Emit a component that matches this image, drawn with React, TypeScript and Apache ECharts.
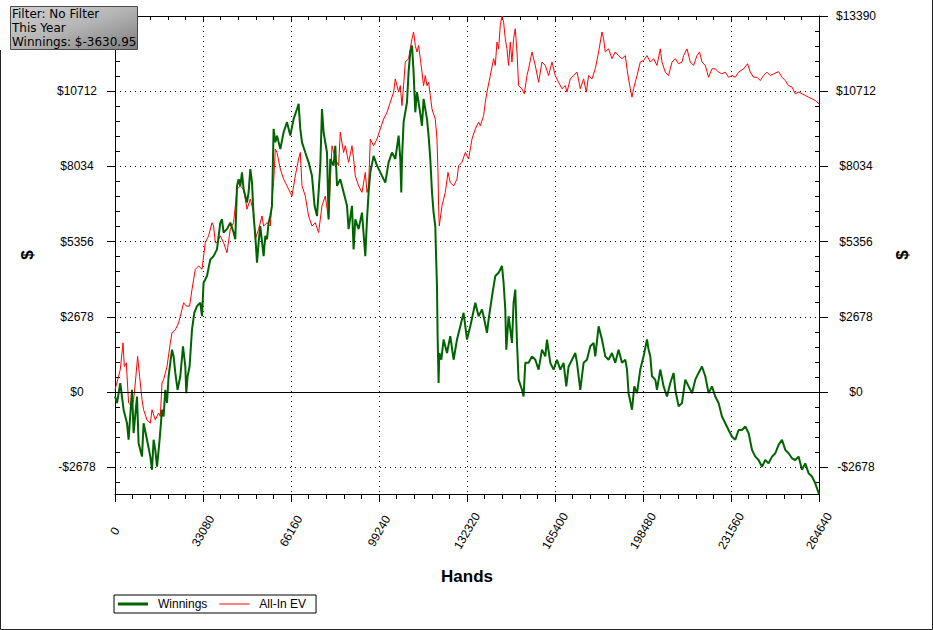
import React, { useEffect, useRef } from 'react';
import * as echarts from 'echarts';

// [hands, dollars]
const winnings: [number, number][] = [
  [0,-160],[750,-390],[1990,320],[3230,-630],[4510,-1110],[5110,-1700],[6390,80],[6990,-1460],[8270,-160],[8870,-1820],
  [10150,-2300],[10750,-1110],[12030,-1700],[13270,-2300],[13910,-2770],[14510,-1700],[15150,-2060],[15790,-2660],[16770,-1700],[17670,-630],
  [18270,-870],[18910,80],[19550,-390],[20150,560],[20790,1040],[21430,1510],[22030,1270],[22670,680],[23530,80],[24550,560],
  [25560,1630],[26430,910],[26800,-40],[27290,560],[28040,910],[28940,2220],[29810,2820],[30820,3060],[32060,3180],[32700,2700],
  [33300,3890],[34580,4130],[35820,4720],[37060,4840],[38340,5080],[39580,6030],[40220,6150],[40820,5680],[42100,5800],[43340,6030],
  [44580,5680],[45220,5440],[45860,7340],[46460,7580],[47100,7340],[47740,7820],[48340,7220],[49620,6750],[50220,7110],[50860,7940],
  [51500,7460],[52100,6270],[52740,5560],[53380,4610],[53980,5320],[54620,5910],[55860,4840],[56500,5560],[57140,5440],[57740,6030],
  [58380,6270],[59020,6630],[59620,9370],[60260,8890],[60900,9130],[62140,8650],[63380,9250],[64660,9610],[65900,9130],[67140,9720],
  [68410,10080],[69020,10260],[69650,9370],[70290,8890],[71530,8530],[72770,8180],[74050,7700],[75030,6630],[75930,6270],[76530,7110],
  [77170,8060],[77810,10080],[78410,9250],[79690,8530],[80290,6150],[80930,8300],[82170,8060],[82810,8770],[83450,7340],[84690,7580],
  [85930,7110],[87210,6630],[87810,5800],[89090,6630],[89690,5080],[90330,6150],[91570,5800],[92850,6390],[94090,4840],[94730,6150],
  [95330,7110],[95970,7820],[97210,8410],[98490,8060],[99730,7820],[100970,7580],[101610,7460],[102850,8180],[104120,8530],[105370,8300],
  [106610,9130],[107240,8300],[107620,7110],[107880,8300],[108490,9610],[109760,10320],[110360,11390],[111000,12110],[111640,12340],[112240,11390],
  [112880,9960],[113520,10680],[114120,10320],[115400,9480],[116000,10440],[117280,9720],[117880,9130],[118520,8300],[119160,7110],[119760,6390],
  [120400,5910],[120660,4960],[121040,3770],[121270,1990],[121640,320],[121900,1390],[122660,1150],[123520,1870],[124800,1390],[126040,1990],
  [127280,1150],[128560,1870],[129800,2340],[131040,2820],[132320,1870],[133560,2340],[135440,3180],[136680,2700],[137960,2940],[138560,2700],
  [139830,2110],[140440,2580],[141710,3410],[142950,4130],[144200,4250],[145470,4490],[146080,3890],[146710,2940],[147090,1510],[147950,2700],
  [149230,1750],[149830,3180],[150470,3650],[151110,1750],[151710,440],[152990,80],[153590,-160],[154230,1040],[155470,1040],[156750,1270],
  [157990,1150],[159230,800],[160510,1510],[161750,1270],[162390,1870],[163630,1040],[164870,800],[166150,1150],[167390,800],[168630,1040],
  [169640,200],[170510,910],[171790,1150],[173030,1390],[173670,1040],[174910,80],[176150,1040],[177420,1150],[178670,1630],[179910,1750],
  [180540,1270],[181790,2340],[183060,1870],[184300,1270],[185540,1150],[186820,1390],[188060,1040],[189300,1510],[190580,1040],[191820,1150],
  [192460,800],[193060,-40],[194340,-630],[195200,200],[196220,-40],[197460,800],[198700,1270],[199980,1870],[200580,1510],[201220,1270],
  [201860,560],[203100,440],[203740,80],[204980,800],[206220,200],[207500,-160],[208740,320],[209980,680],[210620,80],[211860,-510],
  [213140,-390],[214380,440],[215620,200],[216890,-40],[218140,440],[219380,680],[220650,910],[221890,560],[223130,-40],[224410,200],
  [225650,-160],[226890,-390],[228170,-870],[229410,-1110],[230650,-1350],[231930,-1590],[233170,-1700],[234410,-1350],[235690,-1350],[236930,-1230],
  [238170,-1460],[239450,-2060],[240690,-2300],[241930,-2420],[243210,-2660],[244450,-2420],[245690,-2540],[246970,-2300],[248210,-2180],[249450,-1880],
  [250730,-1700],[251970,-2060],[253210,-2180],[254480,-2360],[255720,-2420],[256970,-2300],[258240,-2770],[259480,-2540],[260720,-2890],[262000,-3010],
  [263240,-3250],[264640,-3630.95]
];

const allInEV: [number, number][] = [
  [0,80],[1350,560],[1990,800],[3010,1750],[3500,910],[4250,1040],[5110,-390],[6390,-510],[6990,-270],[7630,320],
  [8500,1270],[9250,560],[10150,-270],[10750,-630],[12030,-990],[13270,-1110],[13910,-630],[15150,-990],[16390,-750],[17030,-870],
  [17670,320],[18270,440],[19550,910],[20790,1750],[21430,2110],[22670,2220],[23910,2460],[25190,2940],[25790,3180],[26800,3060],
  [28040,3060],[28940,3650],[30190,4370],[31430,4490],[32700,4370],[33940,5320],[35180,5560],[36460,6030],[37060,5910],[37700,5320],
  [38340,5320],[39580,5560],[40820,5320],[42100,4960],[43340,5800],[44580,6030],[45860,7220],[47100,7340],[48340,7220],[49620,6510],
  [50860,6870],[51500,6630],[52100,6390],[52740,5440],[53980,5800],[55260,6270],[55860,5910],[57140,6030],[58380,5910],[59020,6870],
  [59620,7460],[60260,8650],[60900,8530],[62140,7940],[63380,7580],[64660,7340],[65260,7220],[66530,6980],[67770,7700],[69020,8300],
  [69650,8530],[70290,7340],[71530,6980],[72770,6270],[74050,5910],[75290,6030],[76530,5680],[77810,6630],[79050,6980],[80290,6150],
  [81570,8770],[82810,8300],[84050,8060],[84690,9250],[85930,8530],[86570,8770],[87810,8180],[89090,8770],[89690,8300],[90330,7700],
  [91570,7340],[92850,7110],[94090,7820],[94730,7110],[95330,7340],[95970,9010],[97210,8770],[98490,9010],[99730,9370],[100970,9720],
  [102250,9960],[103490,10320],[104730,10680],[105370,11150],[106610,10680],[107240,10910],[107880,10200],[108490,10910],[109120,11750],[110360,11870],
  [111640,12580],[112240,12820],[112880,12340],[113520,12110],[114120,12340],[114760,11870],[115400,11390],[116000,10910],[116640,11270],[117280,10910],
  [117880,11030],[118520,10560],[119160,10080],[120400,9720],[121040,9010],[121420,7820],[121640,6630],[121900,5910],[122920,6630],[124160,7110],
  [125180,7820],[126040,7460],[127280,7340],[128560,7580],[129160,8060],[130440,8180],[131680,8530],[132920,8300],[134200,9010],[135440,9370],
  [136680,9610],[137320,9480],[138560,9840],[139200,10320],[139830,10680],[141080,11270],[142320,11870],[142950,11630],[143590,12460],[144200,12220],
  [144830,13060],[145470,13390],[146080,13180],[146710,12580],[147350,12220],[147950,11630],[148590,12460],[149230,11750],[149830,12580],[150470,12940],
  [151110,12110],[151710,10910],[152990,10800],[153860,10620],[154870,11270],[155470,11510],[156750,12110],[157990,11630],[159230,11030],[160510,11750],
  [161750,11630],[162990,11270],[164270,11750],[165510,11270],[166750,11030],[168030,10800],[169270,10910],[169910,10680],[171150,11150],[172390,11270],
  [173670,11390],[174910,10800],[176150,11150],[177160,10680],[178030,11270],[179300,11150],[180540,11510],[181790,12110],[183060,12820],[183670,12580],
  [184300,12110],[185540,12220],[186820,11870],[188060,12110],[189300,11980],[190580,11870],[191820,11980],[192460,11510],[193060,11150],[193700,10800],
  [194340,10500],[194940,10800],[196220,11270],[197460,11750],[198700,11810],[199980,11980],[201220,11750],[202460,11870],[203740,11630],[204980,12220],
  [205620,11750],[206860,11390],[208100,11270],[209380,11750],[210620,11870],[211860,11690],[213140,11750],[213740,11980],[215020,12220],[216260,11750],
  [217500,11630],[218770,11980],[219750,12110],[220650,11750],[221890,11630],[223130,11210],[224410,11510],[225650,11510],[226890,11390],[228170,11330],
  [229410,11390],[230650,11210],[231930,11270],[233170,11210],[234410,11390],[236290,11510],[237790,11690],[238810,11390],[240050,11210],[241330,11210],
  [242570,11090],[243810,11270],[245090,11390],[246330,11270],[247570,11330],[249450,11410],[250730,11210],[251970,11090],[253210,10910],[254480,10860],
  [255720,10620],[256970,10680],[258240,10620],[259480,10560],[260720,10500],[262000,10440],[263240,10380],[264640,10260]
];

const yMajorTicks = [-2678, 0, 2678, 5356, 8034, 10712, 13390];
// the top-left label is hidden under the filter box in the reference
const yLeftLabels = [-2678, 0, 2678, 5356, 8034, 10712];
const yMin = -3630.95;
const yMax = 13390;
const xStep = 33080;
const xMax = 264640;
const seriesNames = ['Winnings', 'All-In EV'];
const filterLines = ['Filter: No Filter', 'This Year', 'Winnings: $-3630.95'];

const FONT = '"Liberation Sans", Arial, sans-serif';

function buildMinorTicks(): number[] {
  const step = (yMajorTicks[1] - yMajorTicks[0]) / 5;
  const out: number[] = [];
  for (let v = yMajorTicks[0] - step; v > yMin; v -= step) out.push(v);
  for (let i = 0; i < yMajorTicks.length - 1; i++) {
    for (let k = 1; k < 5; k++) out.push(yMajorTicks[i] + step * k);
  }
  return out;
}

const fmtDollar = (v: number) => (v < 0 ? '-$' + Math.abs(Math.round(v)) : '$' + Math.round(v));

export default function App() {
  const ref = useRef<HTMLDivElement>(null);
  useEffect(() => {
    if (!ref.current) return;
    const chart = echarts.init(ref.current, undefined, { renderer: 'svg' });
    const minor = buildMinorTicks();
    const black = { color: '#000', width: 1 };
    const dotted = { color: '#000', width: 1, type: [1, 4] as any };

    const yAxisBase = (position: 'left' | 'right') => ({
      type: 'value',
      position,
      min: yMin,
      max: yMax,
      scale: true,
      splitLine: { show: false },
    });

    const option: any = {
      animation: false,
      backgroundColor: '#fff',
      grid: { left: 115, top: 16, width: 704, height: 478, containLabel: false },
      legend: {
        left: 114,
        top: 595,
        orient: 'horizontal',
        symbolKeepAspect: true,
        data: [
          { name: seriesNames[0], icon: 'path://M0 0 H30 V3 H0 Z' },
          { name: seriesNames[1], icon: 'path://M0 0 H30 V1 H0 Z' },
        ],
        itemWidth: 30,
        itemHeight: 12,
        itemGap: 12,
        padding: [3, 10, 3, 4],
        borderColor: '#000',
        borderWidth: 1,
        borderRadius: 0,
        textStyle: { color: '#000', fontSize: 12, fontFamily: FONT, padding: [0, 0, 0, 5] },
      },
      xAxis: [
        {
          type: 'value',
          position: 'bottom',
          min: 0,
          max: xMax,
          interval: xStep,
          axisLine: { show: true, onZero: false, lineStyle: black },
          axisTick: { show: true, length: 8, lineStyle: black },
          minorTick: { show: true, splitNumber: 5, length: 5, lineStyle: black },
          axisLabel: {
            rotate: 60,
            align: 'center',
            verticalAlign: 'middle',
            margin: 37,
            color: '#000',
            fontSize: 12,
            fontFamily: FONT,
            formatter: (v: number) => String(v),
            showMinLabel: true,
            showMaxLabel: true,
          },
          splitLine: { show: true, lineStyle: dotted },
          name: 'Hands',
          nameLocation: 'middle',
          nameGap: 74,
          nameTextStyle: { color: '#000', fontSize: 17, fontWeight: 'bold', fontFamily: FONT, verticalAlign: 'top' },
        },
        {
          type: 'value',
          position: 'top',
          min: 0,
          max: xMax,
          interval: xStep,
          axisLine: { show: true, onZero: false, lineStyle: black },
          axisTick: { show: true, inside: true, length: 6, lineStyle: black },
          minorTick: { show: true, splitNumber: 5, length: 4, lineStyle: black },
          axisLabel: { show: false },
          splitLine: { show: false },
        },
      ],
      yAxis: [
        {
          ...yAxisBase('left'),
          axisLine: { show: true, onZero: false, lineStyle: black },
          axisTick: { show: true, length: 8, lineStyle: black, customValues: yMajorTicks },
          axisLabel: {
            customValues: yLeftLabels,
            formatter: fmtDollar,
            color: '#000',
            fontSize: 12,
            fontFamily: FONT,
            align: 'center',
            margin: 38,
          },
          name: '$',
          nameLocation: 'middle',
          nameGap: 79,
          nameRotate: 90,
          nameTextStyle: { color: '#000', fontSize: 17, fontWeight: 'bold', fontFamily: FONT },
        },
        {
          ...yAxisBase('left'),
          axisLine: { show: false, onZero: false },
          axisTick: { show: true, inside: true, length: 5, lineStyle: black, customValues: minor },
          axisLabel: { show: false },
        },
        {
          ...yAxisBase('right'),
          axisLine: { show: true, onZero: false, lineStyle: black },
          axisTick: { show: true, length: 9, lineStyle: black, customValues: yMajorTicks },
          axisLabel: {
            customValues: yMajorTicks,
            formatter: fmtDollar,
            color: '#000',
            fontSize: 12,
            fontFamily: FONT,
            align: 'center',
            margin: 37,
          },
          name: '$',
          nameLocation: 'middle',
          nameGap: 75,
          nameRotate: 90,
          nameTextStyle: { color: '#000', fontSize: 17, fontWeight: 'bold', fontFamily: FONT },
        },
        {
          ...yAxisBase('right'),
          axisLine: { show: false, onZero: false },
          axisTick: { show: true, inside: true, length: 4, lineStyle: black, customValues: minor },
          axisLabel: { show: false },
        },
      ],
      series: [
        {
          name: 'gridlines',
          type: 'line',
          data: [],
          xAxisIndex: 0,
          yAxisIndex: 0,
          z: 1,
          silent: true,
          markLine: {
            silent: true,
            symbol: ['none', 'none'],
            label: { show: false },
            animation: false,
            data: [
              ...yMajorTicks
                .filter((v) => v !== 0 && v !== yMax)
                .map((v) => ({ yAxis: v, lineStyle: dotted })),
              { yAxis: 0, lineStyle: { color: '#000', width: 1, type: 'solid' } },
            ],
          },
        },
        {
          name: seriesNames[1],
          type: 'line',
          data: allInEV,
          xAxisIndex: 0,
          yAxisIndex: 0,
          symbol: 'none',
          showSymbol: false,
          z: 3,
          silent: true,
          lineStyle: { color: '#ff0000', width: 1 },
          itemStyle: { color: '#ff0000' },
        },
        {
          name: seriesNames[0],
          type: 'line',
          data: winnings,
          xAxisIndex: 0,
          yAxisIndex: 0,
          symbol: 'none',
          showSymbol: false,
          z: 4,
          silent: true,
          lineStyle: { color: '#006400', width: 2 },
          itemStyle: { color: '#006400' },
        },
      ],
      graphic: [
        {
          type: 'polyline',
          silent: true,
          z: 50,
          shape: { points: [[0.5, 50], [0.5, 629.5], [932.5, 629.5], [932.5, 0]] },
          style: { stroke: '#222', fill: 'none', lineWidth: 1 },
        },
        {
          type: 'rect',
          silent: true,
          z: 100,
          shape: { x: 10.5, y: 6.5, width: 127, height: 43 },
          style: {
            fill: new echarts.graphic.LinearGradient(0, 0, 1, 1, [
              { offset: 0, color: '#d2d2d2' },
              { offset: 0.5, color: '#b4b4b4' },
              { offset: 1, color: '#7e7e7e' },
            ]),
            stroke: '#4a4a4a',
            lineWidth: 1,
          },
        },
        ...filterLines.map((t, i) => ({
          type: 'text',
          silent: true,
          z: 101,
          style: {
            x: 12,
            y: 14 + i * 14,
            text: t,
            fill: '#000',
            fontSize: 12,
            fontFamily: '"DejaVu Sans", Verdana, sans-serif',
            verticalAlign: 'middle',
            align: 'left',
          },
        })),
      ],
    };
    chart.setOption(option);
    return () => chart.dispose();
  }, []);
  return (
    <div
      ref={ref}
      style={{ position: 'absolute', left: 0, top: 0, width: 933, height: 630, background: '#fff' }}
    />
  );
}
